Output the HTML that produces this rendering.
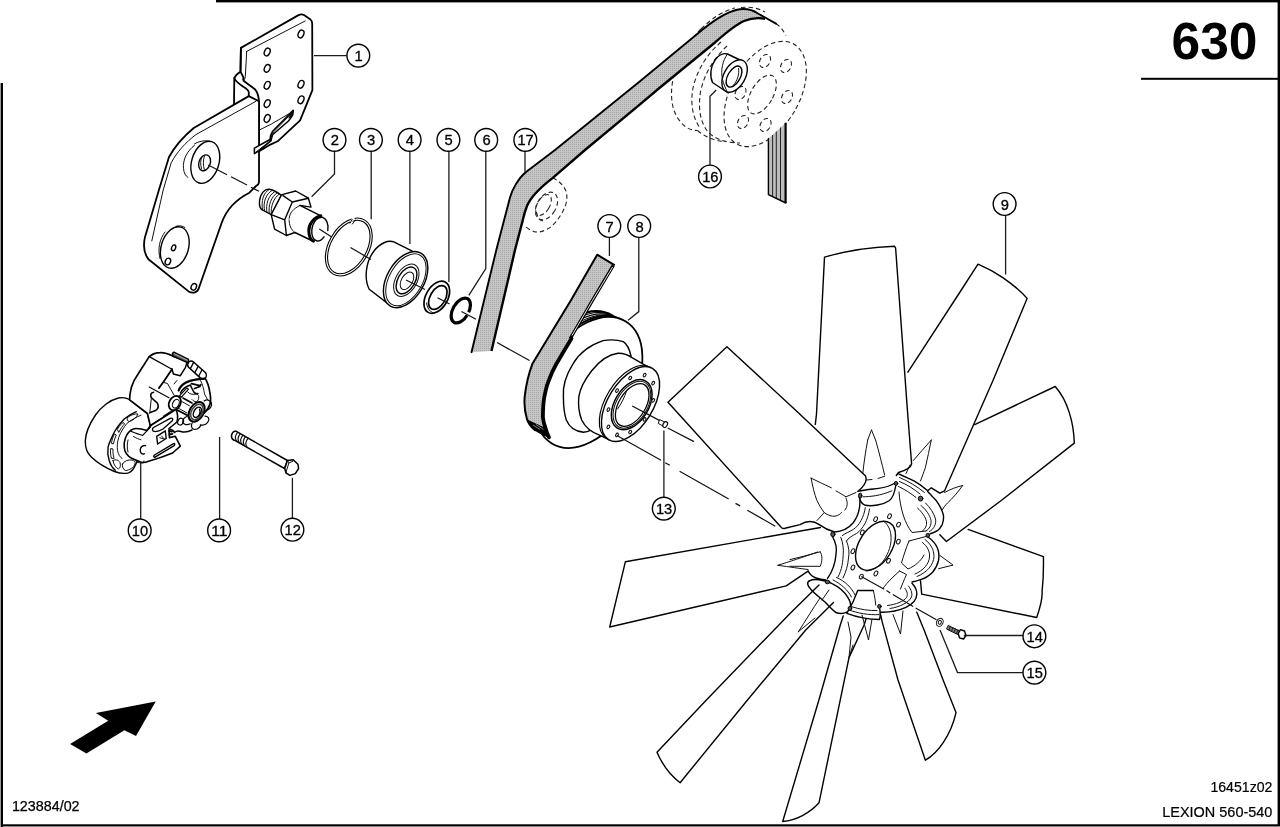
<!DOCTYPE html>
<html><head><meta charset="utf-8"><title>630</title>
<style>
html,body{margin:0;padding:0;background:#fff;overflow:hidden}
svg{display:block;filter:grayscale(1)}
text{font-family:"Liberation Sans",sans-serif;fill:#000}
.o{fill:none;stroke:#000;stroke-width:1.8;stroke-linejoin:round;stroke-linecap:round}
.m{fill:none;stroke:#000;stroke-width:1.4;stroke-linejoin:round;stroke-linecap:round}
.t{fill:none;stroke:#111;stroke-width:1;stroke-linejoin:round;stroke-linecap:round}
.h{fill:none;stroke:#111;stroke-width:1;stroke-linejoin:round;stroke-linecap:round}
.w{fill:#fff}
.ld{fill:none;stroke:#1c1c1c;stroke-width:1.3}
.cl{fill:none;stroke:#111;stroke-width:1.2}
.d{fill:none;stroke:#222;stroke-width:1.1;stroke-dasharray:4.5 3}
.cn{font-size:14.1px;text-anchor:middle;stroke:#000;stroke-width:0.3}
.cc{fill:#fff;stroke:#000;stroke-width:1.4}
</style></head>
<body>
<svg width="1280" height="827" viewBox="0 0 1280 827">
<defs>
<pattern id="bp" width="2" height="2" patternUnits="userSpaceOnUse"><rect width="2" height="2" fill="#c6c6c6"/><rect width="1" height="1" fill="#a6a6a6"/></pattern>
</defs>
<rect width="1280" height="827" fill="#fff"/>
<!-- frame -->
<rect x="216" y="0" width="1064" height="2.4" fill="#000"/>
<rect x="1277.6" y="0" width="2.4" height="827" fill="#000"/>
<rect x="0" y="824.3" width="1280" height="1.8" fill="#000"/>
<rect x="0" y="826" width="1280" height="1" fill="#888"/>
<rect x="0" y="83" width="1" height="744" fill="#999"/>
<rect x="1" y="83" width="2" height="744" fill="#000"/>
<rect x="1141" y="77.8" width="137" height="2" fill="#000"/>
<text x="1214.5" y="59.4" font-size="51.5" font-weight="bold" text-anchor="middle">630</text>
<text x="11.9" y="811.3" font-size="14.7" textLength="67.7" lengthAdjust="spacingAndGlyphs" stroke="#000" stroke-width="0.25">123884/02</text>
<text x="1210.4" y="792.1" font-size="14.7" textLength="62" lengthAdjust="spacingAndGlyphs" stroke="#000" stroke-width="0.2">16451z02</text>
<text x="1162.2" y="816.8" font-size="14.7" textLength="110.2" lengthAdjust="spacingAndGlyphs" stroke="#000" stroke-width="0.2">LEXION 560-540</text>
<polygon points="155.7,701.4 95.9,713.1 108.2,720.7 70.1,743.9 86.4,753.5 124.4,730.2 136,735.9" fill="#000"/>

<!-- dashed idler near belt bend -->
<g class="d">
<path d="M552.5,178.1 C558,180 563,184.5 566,191 C568,198 566.5,205 562.5,212 C558,220 553,226 547.5,229 C543,231.5 539,232.5 535,231.9 C531,230.5 527.5,228.5 525,226.3"/>
<ellipse cx="546.5" cy="206" rx="9.5" ry="15" transform="rotate(30 546.5 206)"/>
<ellipse cx="543.5" cy="205" rx="6.2" ry="11.5" transform="rotate(30 543.5 205)"/>
<path d="M536.5,212 C537,217 539.5,220.5 543,221"/>
</g>
<!-- big dashed pulley top right -->
<g class="d">
<ellipse cx="765.2" cy="94" rx="34" ry="57.5" transform="rotate(30 765.2 94)"/>
<ellipse cx="762" cy="94.5" rx="11" ry="21.5" transform="rotate(30 762 94.5)"/>
<path d="M701,29 C688,42 676,62 672.5,82 C670,98 672,112 681,122.5 C686,128 691,130.5 697.5,130.5"/>
<path d="M721,42 C707,54 697,70 693,88 C690,104 693,118 700,128"/>
<path d="M727,46 C714,58 704,74 700.5,92 C698,108 700,122 708,132 C716,140 728,143 740,143"/>
<path d="M697.5,130.5 C705,137 715,141 725,141.5"/>
<path d="M741,7.5 C750,6.5 758,8 765,12 M776,23.7 C780,26 783,30 786,35.5"/>
<path d="M701,29 C712,18 724,10.5 735,8"/>
<ellipse cx="765" cy="61" rx="5" ry="7" transform="rotate(30 765 61)"/>
<ellipse cx="786" cy="66" rx="5" ry="7" transform="rotate(30 786 66)"/>
<ellipse cx="787" cy="97" rx="5" ry="7" transform="rotate(30 787 97)"/>
<ellipse cx="765.5" cy="125" rx="5" ry="7" transform="rotate(30 765.5 125)"/>
<ellipse cx="743" cy="122" rx="5" ry="7" transform="rotate(30 743 122)"/>
<ellipse cx="740.5" cy="93" rx="5" ry="7" transform="rotate(30 740.5 93)"/>
</g>

<!-- belt 17 -->
<path d="M471.5,352.2 L496.3,250 L510,197.5 C512,190 518,178.5 526,172 L555,150 L640,81.2 L697.5,33.7 C712,21.5 724,13 736,10 C744,8 752,9.5 758,13.5 L765,18.7 C758,17.5 750,18.5 744,21 C734,25.5 724,34.5 715,42.5 L660,87.5 L640,104.4 L585,150 L552.5,178.1 C541,187 531,196 527,206 C524.5,212 523.5,217 522.5,221.2 L515,250 L491.5,351 Z" fill="url(#bp)" stroke="none"/>
<path style="stroke-width:1.9" class="m" d="M471.5,352.2 L496.3,250 L510,197.5 C512,190 518,178.5 526,172 L555,150 L640,81.2 L697.5,33.7 C712,21.5 724,13 736,10 C744,8 752,9.5 758,13.5 L776,23.7"/>
<path d="M765,18.7 C758,17.5 750,18.5 744,21 C734,25.5 724,34.5 715,42.5 L660,87.5 L640,104.4 L585,150 L552.5,178.1 C541,187 531,196 527,206 C524.5,212 523.5,217 522.5,221.2 L515,250 L491.5,351" fill="none" stroke="#000" stroke-width="2.4" stroke-linejoin="round"/>
<!-- vertical belt right of dashed pulley -->
<path d="M768.4,138.4 L785.9,122.7 L785.9,203 L768.4,194.6 Z" fill="#bdbdbd"/>
<path d="M772.6,135 V196.6 M776.3,131.5 V198.4 M780.5,127.5 V200.4" stroke="#222" stroke-width="1" fill="none"/>
<path d="M768.4,138.4 V194.6 L785.9,203" class="m"/>
<path d="M785.6,122.7 V203" stroke="#000" stroke-width="2.2" fill="none"/>

<!-- bracket 1 -->
<g class="o">
<!-- upper plate -->
<path class="w" d="M240.9,47.9 L298.5,15.1 Q301.5,13.6 304,15 L310.5,19.6 Q312.2,21 312.2,23.5 L312.4,90.1 L300.1,120.3 L277.6,141.3 L270.4,144.6 L258.8,151.5 L259,145 L259,101 C258.5,95 257,91.5 254.6,88.9 L244.5,81.6 C243,80 243.2,78.5 243.7,78 L240.5,71.7 Z"/>
<path d="M240.9,47.9 L240.5,71.7 C237.5,73.5 235.3,75.5 234.3,78 L234,104.8"/>
<!-- S bend outer -->
<path d="M234.3,78 C235.5,81 238,83.5 244.5,87.4 C247.5,89.3 248.8,90.5 248.8,92.5 L248.8,96.1"/>
<!-- lower plate -->
<path class="w" d="M248.8,96.1 L193.7,128 C183,137 175,146 169,157 L158.9,190 L144.9,237.4 C143,246 144.5,254 148.4,259.3 L188.6,291.4 C193,294 197.5,292.5 198.9,288 L221.8,222.5 C227,208 237,199 249.4,192.7 L256.1,186 C258,185 259,183.5 259,181.7 L259,101.2 Z"/>
</g>
<g class="t">
<path d="M246.7,51.4 L305.3,20.9 M246.7,51.4 L245.3,76.6 C245,79 244.2,80.5 243.7,81"/>
<path d="M256.1,101.2 L195.9,134.6 C185,143 177,152 171.2,162.8 L163.2,190 L151.8,240.9"/>
<path d="M259,130.2 L271.4,124 L292.7,111.6"/>
</g>
<!-- tab -->
<g class="m">
<path class="w" d="M293.2,110.2 L272.6,131.2 C271,133.5 270.2,136.5 270,139.5 L254.4,148.2 L254.4,153.7 L258.8,150.8 L271.1,140.6 C271.5,138.5 272,136.5 272.6,134.8 L288.5,121 C290.5,118.5 292.3,116 292.9,114.5 Z" stroke-width="1.5"/>
<path d="M293,110.6 L291.3,116.6 L289.2,118 Z" fill="#000" stroke-width="1"/>
<path class="t" d="M291.5,113.5 L274,131.5 C272.5,133.5 271.8,135.5 271.4,137.5 M256,152 L270.5,140.8"/>
</g>
<!-- holes upper plate -->
<g class="m">
<ellipse cx="301" cy="34" rx="2.7" ry="4" transform="rotate(24 301 34)"/>
<ellipse cx="267.2" cy="52" rx="2.7" ry="4" transform="rotate(24 267.2 52)"/>
<ellipse cx="267.2" cy="68.4" rx="2.7" ry="4" transform="rotate(24 267.2 68.4)"/>
<ellipse cx="267.2" cy="85.3" rx="2.7" ry="4" transform="rotate(24 267.2 85.3)"/>
<ellipse cx="301" cy="84.3" rx="2.7" ry="4" transform="rotate(24 301 84.3)"/>
<ellipse cx="301" cy="99.8" rx="2.7" ry="4" transform="rotate(24 301 99.8)"/>
<ellipse cx="267.2" cy="103.6" rx="2.7" ry="4" transform="rotate(24 267.2 103.6)"/>
<ellipse cx="267.2" cy="118.5" rx="2.7" ry="4" transform="rotate(24 267.2 118.5)"/>
</g>
<!-- upper boss -->
<g class="m">
<path class="t" d="M194.4,145.4 C187,151 182.5,160 183.5,168.7 C184,173 185.5,176 187.9,177.4 M194.4,144 C199,141 205,140.2 209.5,141.2"/>
<ellipse class="w" cx="205.3" cy="162.3" rx="13.6" ry="21.6" transform="rotate(17 205.3 162.3)"/>
<ellipse cx="204.6" cy="162.8" rx="5.6" ry="8.2" transform="rotate(20 204.6 162.8)"/>
<path class="h" d="M202,156.5 C200.3,160 200.2,165 201.5,168.5 M204.5,155.8 C203,160 203,165.5 204.3,169.5"/>
</g>
<!-- lower boss -->
<g class="m">
<path class="t" d="M165,232 C159.5,239 157.5,249 160,258.5 M176,226.2 C179.5,225.3 183,226 185,227.5"/>
<ellipse class="w" cx="174.8" cy="247.5" rx="13.6" ry="21.3" transform="rotate(17 174.8 247.5)"/>
<ellipse cx="173.6" cy="247.8" rx="2" ry="3" transform="rotate(20 173.6 247.8)"/>
<ellipse cx="167.9" cy="261.5" rx="2.6" ry="3.4" transform="rotate(25 167.9 261.5)"/>
<ellipse cx="193.8" cy="286.8" rx="2.6" ry="3.4" transform="rotate(25 193.8 286.8)"/>
</g>

<!-- stud 2 -->
<g class="m">
<!-- thread -->
<path class="w" d="M269.5,189.3 C265,188.5 260.5,193 259.5,201 C259,206 260.5,209.5 263.5,210.5 L271.2,214.7 L281.3,195.2 C277,192 273,190 269.5,189.3 Z"/>
<path class="t" d="M272.2,190.3 C266,193.5 262.5,203 264.7,211.2 M274.8,191.6 C268.6,195 265.3,204.5 267,212.4 M277.2,192.8 C271.2,196.5 268,205.5 269.3,213.6 M279.4,194 C273.5,198 270.5,206.5 271.3,214.5 M269.3,189.5 C263.5,192 260.8,201.5 262.6,210"/>
<!-- hex -->
<path class="w" d="M281.3,195.2 L283,194.4 L295.7,191 L308.4,198.2 L311,207.1 L300,205.4 L294.9,232.5 L286.4,235.5 L274.6,229.1 L271.2,214.7 Z"/>
<path d="M283,195.6 L292.3,202 L308.4,198.2 M292.3,202 L284.7,219.8 L271.2,214.7 M284.7,219.8 L286.4,235.5"/>
<path class="t" d="M300,205.4 C293,209 289.5,213 289.2,219 C289,225 291,230 294.9,232.5"/>
<!-- shaft -->
<path class="w" stroke="none" d="M300,205.4 L320.3,215.6 L325,232 L312.7,241 L294.9,232.5 L289.2,219 Z"/>
<path d="M300,205.4 L320.3,215.6 M294.9,232.5 L312.7,241"/>
<path d="M320.8,215.8 C314,217.5 308.5,224 308.8,231 C309,236.5 311,240 313.5,241.2" stroke-width="3"/>
<path class="w" d="M327.8,230.5 C328.8,224 326.5,218.5 322.5,217.3 C317.5,216.5 312.5,222 311.8,230 C311.3,236 313.5,240.5 317,241 C319.5,241.2 322,239.5 324,236.8"/>
</g>
<!-- snap ring 3 -->
<g class="m">
<ellipse cx="348.8" cy="247" rx="19" ry="30.2" transform="rotate(30 348.8 247)" stroke-width="3.3"/>
<ellipse cx="348.8" cy="247" rx="19" ry="30.2" transform="rotate(30 348.8 247)" stroke="#fff" stroke-width="1.1"/>
<path d="M351,221.6 L353.5,218.2" stroke="#fff" stroke-width="2.4"/>
<path class="t" d="M350,223.2 L352.2,219.4 M352.4,224 L355.2,220"/>
</g>
<!-- bearing 4 -->
<g class="m">
<path class="w" d="M393.8,241.9 L412.3,251.2 L391.8,306.6 L369.2,289.2 C364,279 365.5,262 374,251 C380,243 388,240 393.8,241.9 Z"/>
<ellipse class="w" cx="405.6" cy="279.6" rx="18.6" ry="30.6" transform="rotate(30 405.6 279.6)"/>
<ellipse class="t" cx="405.9" cy="279.8" rx="16.6" ry="28.4" transform="rotate(30 405.9 279.8)"/>
<ellipse class="t" cx="406.3" cy="280.2" rx="10.6" ry="17.6" transform="rotate(30 406.3 280.2)"/>
<ellipse cx="406.5" cy="280.4" rx="8.6" ry="14.6" transform="rotate(30 406.5 280.4)"/>
<ellipse class="t" cx="407" cy="280.8" rx="5.6" ry="9.6" transform="rotate(30 407 280.8)"/>
</g>
<!-- ring 5 -->
<g class="m">
<ellipse class="w" cx="436.8" cy="297.3" rx="10.9" ry="17.4" transform="rotate(30 436.8 297.3)" stroke-width="1.7"/>
<ellipse cx="437.8" cy="297.5" rx="7.6" ry="13" transform="rotate(30 437.8 297.5)" stroke-width="1.7"/>
<path class="t" d="M426.5,303 C427,307.5 429.5,311.5 433,313" />
</g>
<!-- ring 6 -->
<ellipse cx="460.8" cy="310.5" rx="7.9" ry="13.6" transform="rotate(30 460.8 310.5)" fill="none" stroke="#000" stroke-width="3.2"/>
<path d="M465.6,312.4 L472.5,316.2" stroke="#fff" stroke-width="3.4" fill="none"/>

<!-- pulley 8 back ribs -->
<clipPath id="ribclip"><rect x="560" y="295" width="100" height="52"/></clipPath>
<g fill="none" stroke="#000" stroke-linecap="round" clip-path="url(#ribclip)">
<ellipse cx="576.5" cy="375.2" rx="44.6" ry="69.6" transform="rotate(31.1 576.5 375.2)" stroke-width="2.2"/>
<ellipse cx="579" cy="376.7" rx="44.6" ry="69.6" transform="rotate(31.1 579 376.7)" stroke-width="1"/>
<ellipse cx="581.4" cy="378.2" rx="44.8" ry="69.8" transform="rotate(31.1 581.4 378.2)" stroke-width="1.1"/>
<ellipse cx="583.8" cy="379.6" rx="45" ry="70.2" transform="rotate(31.1 583.8 379.6)" stroke-width="1"/>
<ellipse cx="586.2" cy="381" rx="45.4" ry="70.8" transform="rotate(31.1 586.2 381)" stroke-width="2"/>
</g>
<!-- disc -->
<ellipse class="o w" cx="588.6" cy="382.4" rx="45.8" ry="71.3" transform="rotate(31.1 588.6 382.4)"/>
<!-- belt 7 -->
<path d="M597.2,254.7 L614.1,264.8 L593.3,300 L578.8,325 L571.2,340.9 L563.5,351.8 L555.9,364.8 C551,374 547.5,383 545.6,391 C543.8,400 543,408 542.9,417 C543.3,421 543.8,424.5 544.5,428 L528.4,420.6 C525,412 524,404 524.7,396.7 C526,385 528.5,374 532.4,363.8 L571.1,300 Z" fill="url(#bp)" stroke="none"/>
<path d="M526.9,418.7 L528.4,420.6 L543.5,427.6 L549,437.3 C544,435.5 539,433 535.1,430.3 C531.5,427 528.5,423 526.9,418.7 Z" fill="#000" stroke="#000" stroke-width="1"/>
<path d="M533,425 L540,429.5 M536,424.5 L543.5,429.5" stroke="#bbb" stroke-width="0.7" fill="none"/>
<path style="stroke-width:2" class="m" d="M535.1,430.3 C531,427 528,423 526.9,418.7 C524.5,411 524,404 524.7,396.7 C526,385 528.5,374 532.4,363.8 L571.1,300 L597.2,254.7 L614.1,264.8"/>
<path d="M613.3,265.4 L592.5,300.4 L578,325.2 L570.3,338.5" fill="none" stroke="#000" stroke-width="3.2" stroke-linejoin="round" stroke-linecap="butt"/>
<path d="M612.6,267 L592.5,300.4 L578,325.2 L572,335.5" fill="none" stroke="#fff" stroke-width="0.9"/>
<path d="M571.5,338.5 L563.5,351.8 L555.9,364.8 C553,370 551,374.5 549.4,379 C547.5,383.5 546.3,387.5 545.6,391 C544.3,396 543.7,400 543.4,404 C543,409 542.9,413 542.9,417.1 C543.3,422 544.2,425 545.5,428 C546.3,431.5 547.5,434.5 549,437.3" fill="none" stroke="#000" stroke-width="3.8" stroke-linejoin="round" stroke-linecap="round"/>
<!-- middle step -->
<g class="m">
<path class="w" d="M603,340.6 C590,345 579,353.5 573,363.8 C566,375 562.5,386 563.4,396.7 C563.4,405 564,413 566.3,420 C569,426.5 575,431.5 583.5,432.2 C586,432 588.5,431.3 590.3,430.3 L632,362 L631,356 C629.5,349 627,344 623.3,341.6 C617,339.5 610,339.5 603,340.6 Z"/>
<!-- hub cylinder -->
<path class="w" d="M647.5,366.7 L632,357.7 C628,354.8 623,353.2 618,353.3 C608,354.5 599,361.5 591.5,371 C584.5,380 580,389 578.8,396.7 C578,405 579,413 581.7,420 C585,427 592,432.5 600,435.4 L610,440"/>
<!-- flange -->
<ellipse class="w" cx="628.4" cy="402.8" rx="22.4" ry="41.8" transform="rotate(31.7 628.4 402.8)" stroke-width="1.2"/>
<ellipse class="w" cx="630.5" cy="404" rx="22.4" ry="41.8" transform="rotate(31.7 630.5 404)"/>
<ellipse cx="631.7" cy="404.7" rx="16.9" ry="27.5" transform="rotate(31.7 631.7 404.7)" stroke-width="1.5"/>
<ellipse class="t" cx="631.9" cy="404.8" rx="15.4" ry="25.8" transform="rotate(31.7 631.9 404.8)"/>
<ellipse cx="632.2" cy="405" rx="13.3" ry="23.7" transform="rotate(31.7 632.2 405)" stroke-width="1.3"/>
<path class="t" d="M626.8,390.6 C624.5,397 621.5,403.5 617.6,409"/>
</g>
<g style="fill:#fff;stroke-width:1.1" class="t">
<ellipse cx="644.6" cy="375.1" rx="1.2" ry="1.9" transform="rotate(31 644.6 375.1)"/>
<ellipse cx="630.2" cy="378.0" rx="1.2" ry="1.9" transform="rotate(31 630.2 378.0)"/>
<ellipse cx="653.2" cy="383.2" rx="1.2" ry="1.9" transform="rotate(31 653.2 383.2)"/>
<ellipse cx="617.0" cy="390.6" rx="1.2" ry="1.9" transform="rotate(31 617.0 390.6)"/>
<ellipse cx="653.2" cy="400.4" rx="1.2" ry="1.9" transform="rotate(31 653.2 400.4)"/>
<ellipse cx="608.4" cy="409.6" rx="1.2" ry="1.9" transform="rotate(31 608.4 409.6)"/>
<ellipse cx="644.6" cy="419.4" rx="1.2" ry="1.9" transform="rotate(31 644.6 419.4)"/>
<ellipse cx="608.4" cy="426.8" rx="1.2" ry="1.9" transform="rotate(31 608.4 426.8)"/>
<ellipse cx="630.2" cy="432.0" rx="1.2" ry="1.9" transform="rotate(31 630.2 432.0)"/>
<ellipse cx="617.0" cy="434.9" rx="1.2" ry="1.9" transform="rotate(31 617.0 434.9)"/>
</g>

<!-- bushing 16 -->
<g class="m">
<path class="w" d="M727.5,54 L740,60 L727.5,92.5 L712.5,82.5 C709.5,76 710.5,66.5 715,60 C719,54.5 723.5,52.8 727.5,54 Z"/>
<ellipse class="w" cx="734.6" cy="76" rx="10.6" ry="17.6" transform="rotate(30 734.6 76)"/>
<ellipse cx="734" cy="76.6" rx="6.2" ry="11.6" transform="rotate(30 734 76.6)"/>
<path class="t" d="M727.5,54 C722.5,60.5 720.5,70.5 722.5,79.5 C723.5,84 725.5,88 727.5,92.5"/>
<path class="t" d="M738.6,68.5 C739.5,74 737.5,80.5 733.5,85"/>
</g>

<!-- fan blades: fills then strokes in z-order -->
<g class="m">
<path class="w" stroke="none" d="M920.3,583.8 L922.4,595.8 L1036.7,617.5 L1043.4,556.6 L968.1,529.4 L930,550 Z"/>
<path d="M920.5,580.8 L921.7,594.1 L1036.7,617.5 C1040,608 1042.5,598 1042.1,591.4 C1043.6,578 1043.6,566 1043.4,556.6 L968.1,529.4"/>
<path class="w" stroke="none" d="M939,534.6 L946.6,541.6 L1074.3,443.1 L1069,412 L1055.2,386.5 L974.7,424.6 L930,480 L900,520 Z"/>
<path d="M939.8,534.8 L946.4,541.5 L1001.9,500 L1074.3,443.1 C1074,432 1072,421 1069.3,412.6 C1066,402 1061,393 1055.2,386.5 L974.7,424.6"/>
<path class="w" stroke="none" d="M927.9,488.8 L937.7,494.3 L945.3,492 L993.2,380 L1027.1,298.4 L1002.8,277.6 L978,264.1 L907.9,372.2 L900,480 Z"/>
<path d="M927.7,490.8 L931.3,487.8 L939.8,493.2 L944.6,490.8 L993.2,380 L1027.1,298.4 C1021,291 1012,284 1002.8,277.6 C994,271.5 986,267.5 978,264.1 L960,292 L907.9,372.2"/>
<path class="w" stroke="none" d="M815.3,424.4 L824.5,257.1 L860,247 L895.6,246.2 L911.6,463.8 L898.5,472.5 L880,500 L840,480 Z"/>
<path d="M815.3,424.4 L816.5,414 L824.5,257.1 Q858,247.5 894.5,246.2 L895.6,248 L907.4,410 L911.6,463.8 C911,468 905,470.5 898.5,472.5 L896.3,475.5"/>
<path class="w" stroke="none" d="M858,491.4 L866.5,478.7 L726.9,346.7 L668,402.3 L781.4,528.5 L812,520.4 L850,530 Z"/>
<path d="M858,491.4 C866,484.5 867.3,479.5 865.3,475.7 L795.4,410 L726.9,346.7 L668,402.3 L780.5,526.5 Q781.8,529.3 785,528.3 L800,524.6 C806,521 812,519.5 819.3,524.6 C824,528 829,530.5 834,531.8"/>
<path class="w" stroke="none" d="M820.5,527.7 L625.4,561.7 L609.7,627 L786.2,585.9 L810.4,570.1 L840,560 Z"/>
<path d="M820.5,527.5 L625.4,561.7 L609.7,627 L786.2,585.9 L808.1,571.1"/>
<path class="w" stroke="none" d="M819,585 L706.4,700 L657,752.2 L680.1,782.7 L747.5,700 L805.7,630 L833.5,602.6 Z"/>
<path d="M819,585 L790,613.4 L706.4,700 L657,752.2 C662,764 670,775 680.1,782.7 L747.5,700 L805.7,630 L833.5,602.6"/>
<path class="w" stroke="none" d="M840.3,625 L818.9,700 L782.7,821.5 L819,802.8 L849,657.6 L864.1,625 Z"/>
<path d="M843.2,616 L840.3,625 L818.9,700 L782.7,821.5 C796,820.5 810,813 819,802.8 L849,657.6 L864.1,625 L866,619"/>
<path class="w" stroke="none" d="M880,614 L898,680 L925.4,760.2 L956,712.6 L916.8,612.2 L905,590 Z"/>
<path d="M880.6,614.6 L882.2,621.9 L898,680 L925.4,760.2 C938,753 951,735 956,712.6 L943.1,680 L924.1,630 L916.8,612.2"/>
</g>

<!-- fan hub -->
<g class="m">
<!-- hub plate base -->
<path class="w" stroke="none" d="M858,491 L866,489 L896,483 L928,491 L943,515 L928,536 L938,560 L912,582 L916,599 L880,613 L850,608 L828,582 L836,554 L833,534 L855,515 Z"/>
<!-- central hole -->
<ellipse cx="875.5" cy="545.8" rx="16.5" ry="27" transform="rotate(32 875.5 545.8)"/>
<path class="t" d="M884,521.5 C893,528 894,545 884,560 C879,567 872,571 866,571"/>
<!-- A socket -->
<path d="M858,491.4 C864,489.6 872,489.2 878.6,488.4 C886,487.4 892,485 896,482.5"/>
<path class="t" d="M862.9,496.8 C870,496.6 880,496 891.9,490.8"/>
<path d="M859.3,497.5 C860,501 862,504 865.3,505.3 C872,506.5 883,505 889.5,500.5 C892,498.5 894,496 895.7,486"/>
<!-- B socket -->
<path d="M859.8,497 C860.5,506 858.5,516 853,523 C848,529 842,531.5 834.5,532"/>
<path class="t" d="M865.3,507.7 C864,517 859,526 853.2,529.5 C849,532 845,533.5 842.3,535.5"/>
<path class="t" d="M869.5,509 C868,520 863,529 856.5,533.5 C852,536 848,538 846.5,541"/>
<!-- C socket -->
<path d="M832.5,536.5 C836,543 837,549 836,554.2 C835.5,561 833.5,569.9 827.5,578.4"/>
<path class="t" d="M840.8,537.3 C843,543 843.7,549 843.2,554.2 C843,561 842,569.9 838,577"/>
<path class="t" d="M846.5,541 C849,547 849.5,553 848.5,558 C848,565 846,572 843,578"/>
<path d="M808.1,571.1 C810,574.5 813,577 816,578 C819,579 822,579.6 826,580"/>
<path class="t" d="M820.2,551.8 C822.5,555 822.5,561 820.2,566.3 L790,566.3 M790,559.6 L804.5,556 L820.2,551.8"/>
<!-- D socket (cup) -->
<path d="M809.3,580.8 C814,578.5 823,579.5 831.1,583.2 C839,587 845,592.5 848,597.7 C850,601 850.8,604 850.5,606.2"/>
<path d="M809.3,580.8 C806.5,582.5 807.5,586 811,589.5 C815,594 820.2,597.7 826,603 C830,607 833,611 836,612.5 C840,614 844,613.5 846.8,612.2"/>
<path class="t" d="M833,580 C841,584 848,590 851.5,597"/>
<path class="t" d="M836.5,577.5 C845,581 852,588 855,595"/>
<!-- E socket -->
<path d="M857.7,590.5 L873.4,590.5 M857.7,590.5 C855.5,597 852.5,604 846.8,613.4 C855,616.5 868,619.5 879.5,619.5 C880.5,617 880.3,613 879.8,609"/>
<path class="t" d="M873.4,590.5 C874.5,596 875.5,601 875.7,605"/>
<path class="t" d="M851,606.5 C860,609.5 870,611 877,610.5"/>
<path class="t" d="M849,610 C858,613.3 869,615.2 879,614.6"/>
<!-- F socket -->
<path d="M912,583.2 C915.5,587 917,591 916.8,594 C916.8,599 914,603.5 905.9,607.4 C899,610.5 890,612.5 880.6,612.2"/>
<path class="t" d="M908.5,586 C911.5,590 912.5,594 911.5,597 C909,602.5 900,607 890,608.5"/>
<path class="t" d="M905,588.5 C907.5,592 908,595 906.5,597.5 C903.5,601.5 896,604.5 887.5,605.5"/>
<!-- G socket -->
<path d="M927.7,536.7 C933,540.5 936,544 937.4,548.1 C939,552 939.2,556 938.6,560.2 C937.5,565 935.5,569 932.6,572.3 C929,576 925,578.5 920.5,579.6 C918,580.5 915,581.5 912,582"/>
<path class="t" d="M925,539.5 C931,544 934,550 934,556.5 C933.5,565 927,572.5 917,576.5"/>
<path class="t" d="M922.5,542.5 C927.5,546.5 930,551.5 929.5,557 C929,564 923.5,570.5 915,574"/>
<path class="t" d="M939.8,555.4 L953.1,565.1 L938.6,568.7"/>
<!-- I / H sockets -->
<path d="M898.7,473.9 C904,476.5 909,478.5 914.4,481.1 C919.5,484 924,487.5 927.7,490.8"/>
<path class="t" d="M899.5,477.5 C908,481 917,486.5 924.5,492.5"/>
<path class="t" d="M899.5,481.5 C907,484.5 914,489 920,494"/>
<path class="t" d="M898.5,486.5 C905,489.5 911,493.5 916,497.5"/>
<path d="M927.7,491.5 C930,494 931.5,495.5 932.6,496.8 C935,499 937,501.5 938.6,504.1 C941,508 942.5,511.5 943.4,515 C943.8,518.5 943.3,522 942.2,524.6 C941,527 939.5,529 937.4,530.7 C935,532.2 932.5,533.2 930.1,533.7"/>
<path class="t" d="M925.5,503 C930,507.5 934,513 935.5,519 C936.5,524 934,529 929.5,531.5"/>
<path class="t" d="M921,505.5 C926.5,510 930,515.5 931,520.5 C931.5,525 929.5,529 926,531"/>
<path class="t" d="M917.5,508 C922,512 925.5,517 926.5,521.5 C927,525.5 925.5,529 922.5,531"/>
<!-- right plate facets -->
<path class="t" d="M899,492 C899.5,500 901,508 903.5,516 C905.5,522 908.5,528 912,532.5 L926,531"/>
<path class="t" d="M909,541 L926,536.5 M909,541 C906,548 903.5,556 901.5,563 L908,569 C915,566 921,561 924,555"/>
<path class="t" d="M899.5,571 L892,578 C888,582 885,585.5 883,588.5 M899.5,571 L906.5,574.5 C904,580 902,585 900.5,589"/>
<!-- bolt holes of hub plate -->
<g class="t">
<ellipse cx="875.6" cy="519.2" rx="1.7" ry="2.5" transform="rotate(28 875.6 519.2)"/>
<ellipse cx="889.5" cy="516.2" rx="1.7" ry="2.5" transform="rotate(28 889.5 516.2)"/>
<ellipse cx="898.5" cy="524.6" rx="1.7" ry="2.5" transform="rotate(28 898.5 524.6)"/>
<ellipse cx="898.3" cy="541.6" rx="1.7" ry="2.5" transform="rotate(28 898.3 541.6)"/>
<ellipse cx="888.5" cy="560.8" rx="1.7" ry="2.5" transform="rotate(28 888.5 560.8)"/>
<ellipse cx="875.9" cy="573.5" rx="1.7" ry="2.5" transform="rotate(28 875.9 573.5)"/>
<ellipse cx="861.3" cy="576.6" rx="1.7" ry="2.5" transform="rotate(28 861.3 576.6)"/>
<ellipse cx="852.9" cy="567.5" rx="1.7" ry="2.5" transform="rotate(28 852.9 567.5)"/>
<ellipse cx="852.9" cy="551.2" rx="1.7" ry="2.5" transform="rotate(28 852.9 551.2)"/>
<ellipse cx="862.3" cy="532.5" rx="1.7" ry="2.5" transform="rotate(28 862.3 532.5)"/>
</g>
<!-- socket bolts -->
<g fill="#555" stroke="#000" stroke-width="1">
<ellipse cx="860.2" cy="495.6" rx="1.7" ry="2.5"/>
<ellipse cx="896" cy="483.5" rx="1.8" ry="2"/>
<ellipse cx="920.6" cy="498.6" rx="2.3" ry="2.5"/>
<ellipse cx="927.8" cy="535.4" rx="1.8" ry="2"/>
<ellipse cx="832.9" cy="534.2" rx="2.1" ry="2.5"/>
<ellipse cx="827.5" cy="582" rx="2.3" ry="1.8"/>
<ellipse cx="849.9" cy="608.4" rx="1.8" ry="2"/>
<ellipse cx="879.4" cy="606.4" rx="1.8" ry="2"/>
</g>
</g>
<!-- spikes / fins on blades -->
<g class="h">
<path d="M811.1,478.1 C818,481.5 825,485 831.4,487.8 M836,491 C840,493 843,495 846,496.8 L856,492.5 M811.1,478.1 C812.5,486 814.5,494 816.9,500.5 C819,505 821.5,509 824.2,512.6 C828,515.5 832,516.5 835,516.2 C838.5,515.5 840.5,514 841.5,512.5 M846,498 C848,503 847.5,507 844.7,510.2 M824.2,512.6 L817,520.5"/>
<path d="M867.7,440 C865.5,452 864,462 862.9,472.6 M875.6,440 C879,452 882,464 884.6,475 M871.5,430 L867.7,440 M871.5,430 L875.6,440 M866.5,480 L872,479.5 M878,478.5 L884.6,476.3"/>
<path d="M931.3,440 C925,447 919,454 913.2,460.6 M931.3,440 C929.5,449 927.5,458 925.3,467.8 C923.5,473 922,477 920.5,481 M910,465 L906,473.5"/>
<path d="M962.7,485.5 C956,487 950,489.5 944.6,492.5 M962.7,485.5 C958,492 953,498 947.5,503 C945.5,505 943.5,507.5 942.5,509.5"/>
<path d="M777.8,565.3 C790,561.5 802,557.5 817.6,552 M777.8,565.3 C790,567 800,568.5 808,569.5"/>
<path d="M798.3,631.8 L815,618 M798.3,631.8 C806,620 812,610 820,598 M822,600 L829,590"/>
<path d="M849,657.6 L851,637 L848,622 M849,657.6 L853,645"/>
<path d="M862,615 L868.5,640 L872,619 M893,614.5 L900.5,634 L903,611"/>
</g>

<!-- tensioner 10 -->
<g class="m">
<!-- roller -->
<path class="w" d="M147.4,413.5 L129.4,399.5 C126,397.5 122,397.3 118.4,398 C110,400 101,407 95.5,415 C89.5,424 85.5,434 85.3,441 C85.2,448 88,454 91.3,457 C97,462.5 106,468 114.5,471.5 C120,473.5 125,473.8 128.5,472.8 C132,471.5 134,468 135.1,465.6 L152,430 Z"/>
<path d="M136.3,411.7 C132,413.5 128,416 124.5,418.8 C120,423.5 116.5,428 114,432.8 C111,439 109,443 108.1,446.9 C107.3,452 107.8,456.5 109.3,460.9 C110.5,465 112.5,468 115.2,470.3"/>
<path class="t" d="M140.9,415.2 C135.5,417.5 131,420 126.9,423.4 C123.5,427.5 120.5,432.5 118.7,437.5 C117.3,442 116.9,446.5 117.5,450.4 C118.3,454.5 120,457.3 122.2,458.6"/>
<!-- slots on roller face -->
<g class="t">
<path d="M127.5,417.5 C131,414.8 135,413.5 138,414 C136.5,417.5 133,420.5 129.5,421.5 C127.5,421.5 126.5,419.5 127.5,417.5 Z"/>
<path d="M117.5,429 C119,426 121.5,423.5 123.5,422.5 L124.5,424 C122.5,426 120.5,429 119,432 Z"/>
<path d="M111.5,443 C112,439.5 113,436.5 114.5,434 L116.3,435 C115,437.5 114,440.5 113.5,443.5 Z"/>
<path d="M111.3,458 C110.5,454.5 110.3,451.5 110.7,448.5 L113,449 C112.8,452 113,455 114,458 Z"/>
<path d="M113,460.5 C115.5,459 118.5,460 120,462.5 C121,465.5 120,468.5 118.5,469 C116,468 113.5,464.5 113,460.5 Z"/>
<path d="M122.5,464 C124,461 128,459.5 132,460 C134.5,460.5 135.5,462 135,464 C133.5,467.5 129.5,470.5 125.5,470.5 C123,469.5 122,466.5 122.5,464 Z"/>
</g>
<!-- upper body -->
<path class="w" stroke-width="1.7" d="M149.2,356.6 C152.5,353.8 156.5,352.6 160.3,352.6 C164,352.5 168,353.5 172.9,356.1 L187.4,361.5 L192,366 L204.9,377.9 C207.5,382 209,387 209.8,392 C210.8,397 210.8,401 210,404 C209,407.5 207,410.5 204,413 C200,416 196,417.5 192,417.8 L181,412 L176.1,409.4 L150.3,425.8 L147.4,413.5 L129.6,399.8 C129.6,395.5 130.3,391.5 131.3,387.6 C133,382 135.5,377.5 138.1,374 Z"/>
<path d="M149.2,356.6 L172,369.2" stroke-width="1.2"/>
<path d="M149.2,387.1 L169,397.8" stroke-width="1.1"/>
<path d="M172,369.2 L166.1,377.9 L163.2,382.3 L158.9,388.1" stroke-width="1.8"/>
<path d="M172,369.2 L173.4,374 L180.2,375.8 L185.5,367.3 L187.4,361" stroke-width="1.5"/>
<path class="t" d="M163.2,382.3 L167.5,383.5 L170,388 L174,395"/>
<path class="t" d="M174,384 L177,380.5"/>
<!-- top tab -->
<path d="M172.4,353.2 L173.9,352.1 L188.6,359.4 L187.9,362.9 L172.9,356.1 Z" fill="#555" stroke-width="1.3"/>
<path d="M174.5,353.8 L187.5,360.3" stroke="#ddd" stroke-width="0.7"/>
<!-- pins strip -->
<path class="w" d="M188.6,362.2 C190,360.8 192,360.8 193.5,362 L205.3,372.5 C206.8,374.5 206.5,377 205,378.2 C203.5,379.2 201.5,378.8 200,377.6 L188.6,367.2 C187.3,365.6 187.3,363.6 188.6,362.2 Z" stroke-width="1.5"/>
<path d="M193.6,362.4 L190.4,368.6 M198.2,366.4 L194.8,372.6 M202,369.8 L198.8,376" stroke-width="1.3"/>
<!-- arm cutout -->
<path d="M153.6,392.2 C151,392.5 150,394.5 151.2,397.5 L157.4,403.1 C158.8,406 158,409 155.5,410.5 L149.7,412.8" stroke-width="1.6"/>
<path class="t" d="M151.3,398.5 L149.8,412.5"/>
<!-- spring housing -->
<path d="M178.7,390.5 C180,386.5 182.5,384.5 185.5,382.8 C189,380.8 192,380 194.2,379.8 C197.5,379.3 201,379 204.5,378.6" stroke-width="2.2"/>
<path d="M180.5,393 C182.5,389 186,386.2 190.5,385" stroke-width="1.6"/>
<path d="M179.5,395.8 L186.8,387.8 L188.5,389.2 L181.5,397.2 Z" fill="#fff" stroke-width="1.1"/>
<path d="M191.5,383.6 L199.8,385.6 M194.5,388.5 L199.8,386.5 L200.8,384.6" stroke-width="1.8"/>
<path d="M190.5,385.5 L193,390.5 C194,393 196,394 198,393.5" stroke-width="1.5"/>
<path d="M187.8,392 C189.5,394 192.5,394.8 195,394.2 C197,393.8 198.3,394.5 198.7,396.5 C199,399 198,401 196.2,401.8 C194.5,401.6 193,400.8 192,399.6" class="t"/>
<path d="M183,398 L192,403" stroke-width="1.6"/>
<path d="M200.5,380.5 C202.5,384 203.8,389 204.5,394 L207.5,399.5" class="t"/>
<ellipse class="w" cx="174.8" cy="403.1" rx="5.6" ry="7.6" transform="rotate(28 174.8 403.1)" stroke-width="1.8"/>
<ellipse cx="175.8" cy="403.7" rx="3.1" ry="4.6" transform="rotate(28 175.8 403.7)" stroke-width="1.1"/>
<path class="t" d="M181,401 L189.5,405.8 M179.5,408.8 L187,413"/>
<!-- bearing circle -->
<ellipse class="w" cx="196.6" cy="411.8" rx="7" ry="10.6" transform="rotate(30 196.6 411.8)" stroke-width="2"/>
<ellipse cx="196.9" cy="412" rx="5.4" ry="8.4" transform="rotate(30 196.9 412)" stroke="#444" stroke-width="1.6"/>
<ellipse cx="197.3" cy="412.3" rx="3.4" ry="5.6" transform="rotate(30 197.3 412.3)" stroke-width="1.5"/>
<path d="M199.5,409 C200.3,411.5 199.8,414.5 198,416.5" stroke-width="1.2"/>
<!-- lobes around bearing -->
<path d="M204.2,401 C206.5,399.2 210,399.8 211.3,402.5 C212.2,405.5 210.5,409 207.3,410.3" stroke-width="1.2"/>
<path d="M205,416.2 C208,416.2 209.6,418.2 208.6,420.8 C207,424 203.5,425.5 200.3,424.8" stroke-width="1.2"/>
<path d="M187,416.5 C184.5,417 182.3,419.5 182.8,422.2 C183.8,424.8 187.3,425.3 190.3,423.8" stroke-width="1.2"/>
<path d="M192.3,422.8 C190.8,425.3 191.3,428.3 193.8,429.3 C196.8,429.8 199.8,427.8 200.8,425.3" stroke-width="1.2"/>
<ellipse cx="180.6" cy="421.6" rx="2.7" ry="3.5" transform="rotate(25 180.6 421.6)" stroke-width="1.2"/>
<path d="M163.2,416.6 L172.9,410.8" class="t"/>
<!-- arm -->
<path class="w" stroke-width="1.6" d="M150.3,425.8 L176.1,409.4 C177.5,413 178,418 177,422 L169,428.5 L169.4,437.6 L175.3,436.3 L180.3,446.2 L172.6,453 C164,456.5 155,459.5 146.3,462.1 L141.8,462.5 L135.1,459.8 C130,458 126.5,455 125,451 C123.5,446 124,440.5 126.5,435.5 C129,431 132.5,428.5 136,428.5 C140,428.5 144,429.5 147,430.5 Z"/>
<path d="M130.9,431.3 C135,433 139,434.6 142.7,435.3 L150.8,426.7" stroke-width="1.2"/>
<path class="t" d="M133.5,436.5 C136,438 138.5,439.2 141,439.8"/>
<path d="M153.5,427.5 L170.2,418.4 C172.3,417.6 173.5,419 172.3,420.8 L163,429 C159,431.3 155.5,432 153.3,431.2 C152,430.2 152.3,428.5 153.5,427.5 Z" stroke-width="1.3"/>
<path class="t" d="M163.5,415.9 L170.8,411.3 L176.2,408.6"/>
<path d="M156.7,436.3 L165.3,430.8 L166.2,438.5 L157.6,444 Z" stroke-width="1.4"/>
<path class="t" d="M159.8,437.8 L164.6,439.2 L161.5,436"/>
<path d="M154.5,455 L173.5,443.6 C174.8,443.3 175.2,444.5 174.2,445.6 L155,457.2 C153.5,457.5 153.3,456 154.5,455 Z" stroke-width="1.4"/>
<path d="M145.5,445.6 C143,445 140.5,446.8 140.2,449.8 C140,452.8 142,454.5 144.3,453.8" stroke-width="1.4"/>
<path d="M169.2,431 L172,431.6 M169.4,434.5 L172.5,433.8" stroke-width="1.8"/>
<path d="M135.1,459.8 L137,462.5 L143.5,463 L143.9,460.9" class="t"/>
<path d="M170.2,429.3 C172.5,430 174,431 174.5,432.5 C176,431 178.5,430.5 181,431.5 C184,432.5 188,432 192,430" stroke-width="1.5"/>
<path d="M128,440 C127,444 127,448 128,452" class="t"/>
</g>
<!-- bolt 12 -->
<g class="m">
<path class="w" d="M235.9,431.2 L287.4,460.5 L284.5,468.5 L235.2,440.6 C232.5,439.8 231.2,437.5 231.6,435.2 C232.2,432.5 234,431 235.9,431.2 Z" stroke-width="1.5"/>
<path style="stroke-width:1.2" class="t" d="M237.6,432.4 C235.4,435 234.8,438.5 236.6,441.2 M240.2,433.8 C238,436.5 237.4,440 239.2,442.7 M242.8,435.3 C240.6,438 240,441.5 241.8,444.2 M245.4,436.8 C243.2,439.5 242.6,443 244.4,445.7 M248,438.3 C245.8,441 245.2,444.5 247,447.2"/>
<path class="w" d="M287.4,460.5 L293.2,459.8 L297.9,464.2 L298.6,468.5 L295.3,473.6 L289.9,475.4 L285.9,472.9 L284.8,468.5 Z" stroke-width="1.5"/>
<path class="t" d="M287.4,460.5 L288.9,462.9 L286.7,470 L285.9,472.9 M288.9,462.9 L293,461.2"/>
</g>

<!-- center lines -->
<g class="cl">
<path d="M208.2,165 L227,174.7 M231,176.8 L247,185 M251,187.2 L259,191.3"/>
<path d="M319.3,229 L331.3,236.7"/>
<path d="M350.5,247.5 L371,259.5"/>
<path d="M406,280 L425,289.5"/>
<path d="M437.5,297.8 L449.5,304"/>
<path d="M461.5,311.5 L476,319.3"/>
<path d="M497,342.5 L529.5,360.5"/>
<!-- pulley to fan -->
<path d="M632.2,406 L659.3,420.4 M667.7,428 L694,441.6"/>
<path d="M616.9,435.6 L661,460.2 M665.2,462.7 L669.8,465.3 M679.6,471.2 L728.7,499.1 M735.5,503.4 L740.2,505.9 M747.3,510.2 L775.3,526.2"/>
<!-- hub to bolt 14 -->
<path d="M861.3,576.6 L884.2,589.3 M886.5,590.6 L890.2,592.9 M892.8,594.5 L913.2,606.6 M915.6,608 L936.5,619.8"/>
</g>
<!-- pin 13 -->
<g style="fill:#fff" class="t">
<path d="M660,419.8 L665.6,422.4 L664,426.6 L658.6,423.6 Z"/>
<ellipse cx="665.2" cy="424.6" rx="2.1" ry="3.1" transform="rotate(28 665.2 424.6)" stroke-width="1.2"/>
</g>
<!-- washer 15 and bolt 14 -->
<g class="t">
<ellipse cx="939.8" cy="622.3" rx="3.2" ry="4.2" transform="rotate(25 939.8 622.3)" fill="#fff"/>
<ellipse cx="939.8" cy="622.3" rx="1.5" ry="2" transform="rotate(25 939.8 622.3)"/>
<path d="M948.5,625.6 L960,631.2 L958.4,634.8 L946.9,629.2 Z" fill="#777"/>
<path d="M950.5,626.2 L949,630 M953,627.4 L951.5,631.2 M955.5,628.6 L954,632.4 M958,629.8 L956.5,633.6" stroke-width="0.8"/>
<path style="fill:#fff" d="M960.5,629.6 L964.5,631 L966,635.5 L963.5,639 L959.5,637.8 L958.2,633.5 Z" class="m"/>
</g>

<!-- leaders -->
<polyline class="ld" points="346.8,55.7 314.0,55.7"/>
<polyline class="ld" points="334.5,151.5 334.5,174.0 311.6,196.7"/>
<polyline class="ld" points="371.2,151.5 371.2,219.3"/>
<polyline class="ld" points="409.9,151.5 409.9,244.0"/>
<polyline class="ld" points="448.9,151.5 448.9,282.0"/>
<polyline class="ld" points="485.8,151.5 485.8,268.6 468.8,295.3"/>
<polyline class="ld" points="525.0,151.5 525.0,171.9"/>
<polyline class="ld" points="710.0,165.0 710.0,96.2 716.2,90.0"/>
<polyline class="ld" points="609.4,237.6 609.4,256.0"/>
<polyline class="ld" points="638.8,237.6 638.8,311.6 628.1,320.3"/>
<polyline class="ld" points="1005.6,215.6 1005.6,274.6"/>
<polyline class="ld" points="140.7,462.8 140.7,518.8"/>
<polyline class="ld" points="219.6,437.0 219.6,518.8"/>
<polyline class="ld" points="292.4,477.8 292.4,518.1"/>
<polyline class="ld" points="663.9,430.6 663.9,497.0"/>
<polyline class="ld" points="963.8,635.5 1022.8,635.5"/>
<polyline class="ld" points="940.0,630.0 957.5,672.6 1022.8,672.6"/>
<!-- callouts -->
<circle class="cc" cx="358.3" cy="55.6" r="11.4"/>
<text class="cn" x="358.6" y="61.1" textLength="8.20" lengthAdjust="spacingAndGlyphs">1</text>
<circle class="cc" cx="334.5" cy="139.9" r="11.4"/>
<text class="cn" x="334.8" y="145.4" textLength="8.20" lengthAdjust="spacingAndGlyphs">2</text>
<circle class="cc" cx="370.9" cy="139.9" r="11.4"/>
<text class="cn" x="371.2" y="145.4" textLength="8.20" lengthAdjust="spacingAndGlyphs">3</text>
<circle class="cc" cx="409.6" cy="139.9" r="11.4"/>
<text class="cn" x="409.9" y="145.4" textLength="8.20" lengthAdjust="spacingAndGlyphs">4</text>
<circle class="cc" cx="448.4" cy="139.9" r="11.4"/>
<text class="cn" x="448.7" y="145.4" textLength="8.20" lengthAdjust="spacingAndGlyphs">5</text>
<circle class="cc" cx="486.2" cy="139.9" r="11.4"/>
<text class="cn" x="486.5" y="145.4" textLength="8.20" lengthAdjust="spacingAndGlyphs">6</text>
<circle class="cc" cx="525.3" cy="139.9" r="11.4"/>
<text class="cn" x="525.6" y="145.4" textLength="16.30" lengthAdjust="spacingAndGlyphs">17</text>
<circle class="cc" cx="710.0" cy="176.5" r="11.4"/>
<text class="cn" x="710.3" y="182.0" textLength="16.30" lengthAdjust="spacingAndGlyphs">16</text>
<circle class="cc" cx="609.3" cy="226.0" r="11.4"/>
<text class="cn" x="609.6" y="231.5" textLength="8.20" lengthAdjust="spacingAndGlyphs">7</text>
<circle class="cc" cx="639.2" cy="226.0" r="11.4"/>
<text class="cn" x="639.5" y="231.5" textLength="8.20" lengthAdjust="spacingAndGlyphs">8</text>
<circle class="cc" cx="1004.6" cy="204.0" r="11.4"/>
<text class="cn" x="1004.9" y="209.5" textLength="8.20" lengthAdjust="spacingAndGlyphs">9</text>
<circle class="cc" cx="139.7" cy="530.4" r="11.4"/>
<text class="cn" x="140.0" y="535.9" textLength="16.30" lengthAdjust="spacingAndGlyphs">10</text>
<circle class="cc" cx="219.1" cy="530.4" r="11.4"/>
<text class="cn" x="219.4" y="535.9" textLength="16.30" lengthAdjust="spacingAndGlyphs">11</text>
<circle class="cc" cx="292.4" cy="529.7" r="11.4"/>
<text class="cn" x="292.7" y="535.2" textLength="16.30" lengthAdjust="spacingAndGlyphs">12</text>
<circle class="cc" cx="663.8" cy="508.6" r="11.4"/>
<text class="cn" x="664.1" y="514.1" textLength="16.30" lengthAdjust="spacingAndGlyphs">13</text>
<circle class="cc" cx="1034.4" cy="636.3" r="11.4"/>
<text class="cn" x="1034.7" y="641.8" textLength="16.30" lengthAdjust="spacingAndGlyphs">14</text>
<circle class="cc" cx="1034.4" cy="672.6" r="11.4"/>
<text class="cn" x="1034.7" y="678.1" textLength="16.30" lengthAdjust="spacingAndGlyphs">15</text>

</svg>
</body></html>
